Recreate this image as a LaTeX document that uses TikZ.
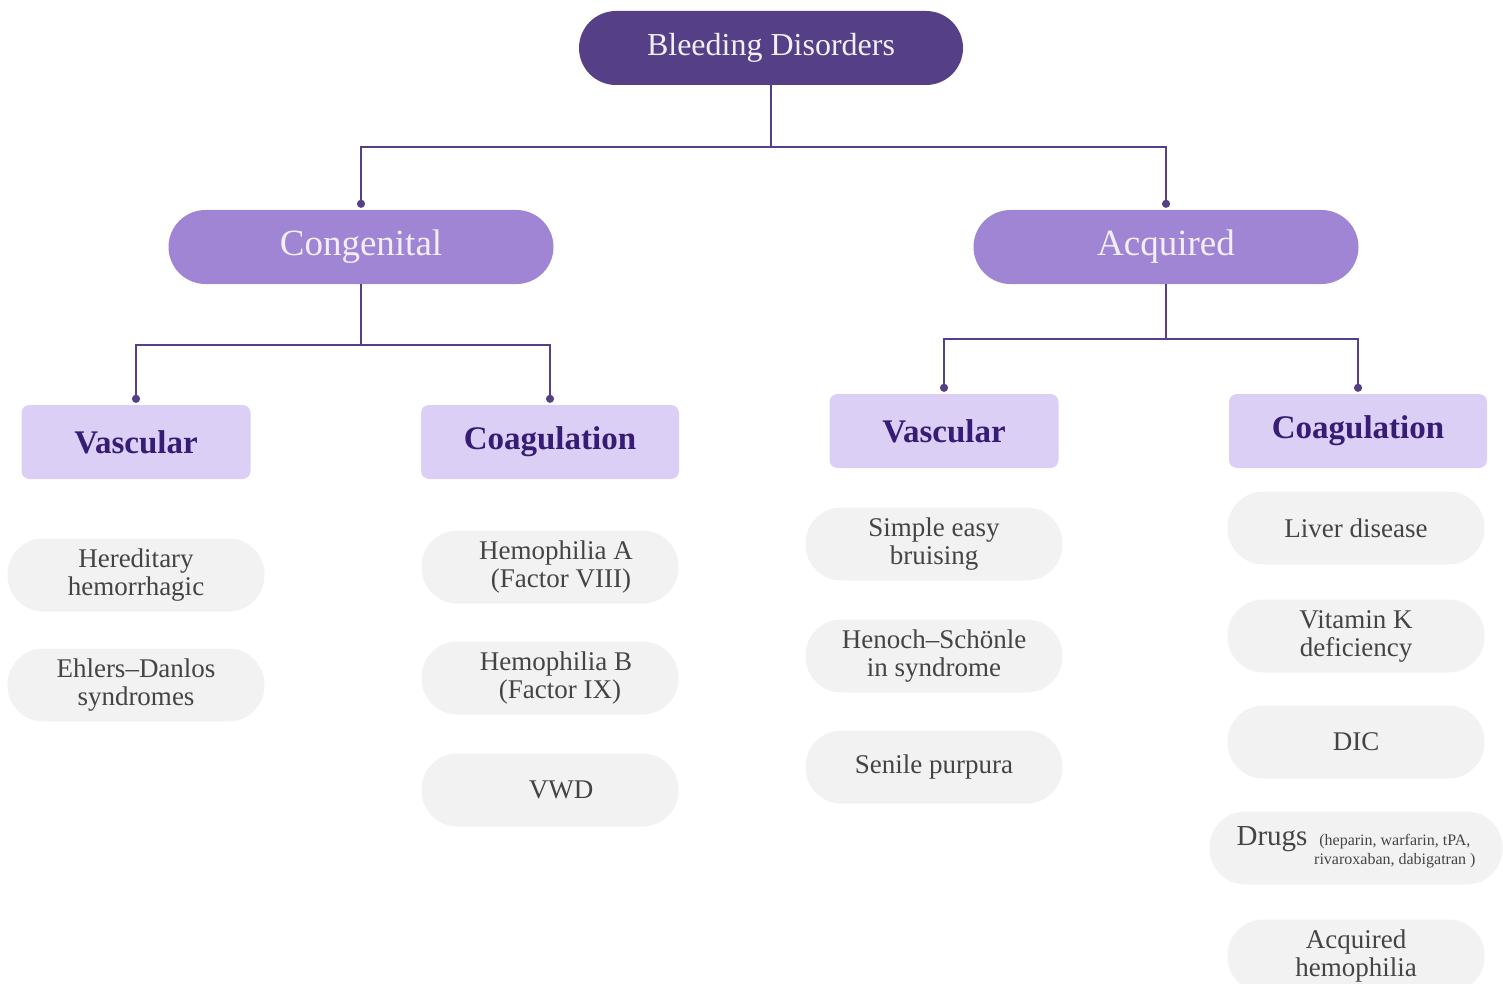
\documentclass[tikz,border=0pt]{standalone}
\usepackage{fontspec}
\setmainfont{Liberation Serif}
\usepackage{xcolor}
\definecolor{rootPurple}{HTML}{553F87}
\definecolor{branchPurple}{HTML}{A085D5}
\definecolor{typeLilac}{HTML}{DCCFF5}
\definecolor{typeText}{HTML}{361C75}
\definecolor{leafGray}{HTML}{F2F2F2}
\definecolor{leafText}{HTML}{444444}
\definecolor{headText}{HTML}{F2EEF7}
\usepackage{tikz}
\usetikzlibrary{arrows.meta, positioning, calc}

\begin{document}
\begin{tikzpicture}[
        x=1pt, y=-1pt,
        rootNode/.style={
            fill=rootPurple,
            rounded corners=37pt,
            minimum height=74pt,
            minimum width=384pt,
            font=\fontsize{32}{35}\selectfont,
            text=headText,
            align=center
        },
        branchNode/.style={
            fill=branchPurple,
            rounded corners=37pt,
            minimum height=74pt,
            minimum width=385pt,
            font=\fontsize{37}{40}\selectfont,
            text=headText,
            align=center
        },
        typeNode/.style={
            fill=typeLilac,
            rounded corners=8pt,
            minimum height=74pt,
            font=\fontsize{33}{36}\selectfont\bfseries,
            text=typeText,
            align=center
        },
        leafNode/.style={
            fill=leafGray,
            rounded corners=36pt,
            minimum height=73pt,
            minimum width=257pt,
            inner sep=0pt,
            font=\fontsize{27}{28}\selectfont,
            text=leafText,
            align=center
        },
        connLine/.style={
            -{Circle[length=8pt]},
            rootPurple,
            line width=2pt,
            shorten >=2pt
        }
    ]
    \useasboundingbox (0,0) rectangle (1503,984);

    % Root
    \node[rootNode] (root) at (771, 48) {Bleeding Disorders};

    % Branches
    \node[branchNode] (cong) at (361, 247) {Congenital};
    \node[branchNode] (acq) at (1166, 247) {Acquired};

    % Types
    \node[typeNode, minimum width=229pt] (cvasc) at (136, 442) {Vascular};
    \node[typeNode, minimum width=258pt] (ccoag) at (550, 442) {Coagulation};
    \node[typeNode, minimum width=229pt] (avasc) at (944, 431) {Vascular};
    \node[typeNode, minimum width=258pt] (acoag) at (1358, 431) {Coagulation};

    % Congenital vascular
    \node[leafNode] (hered) at (136, 575) {Hereditary\\hemorrhagic};
    \node[leafNode] (ehlers) at (136, 685) {Ehlers--Danlos\\syndromes};

    % Congenital coagulation
    \node[leafNode] (hemA) at (550, 567) {\hspace*{12pt}Hemophilia A\\\hspace*{22pt}(Factor VIII)};
    \node[leafNode] (hemB) at (550, 678) {\hspace*{12pt}Hemophilia B\\\hspace*{20pt}(Factor IX)};
    \node[leafNode] (vwd) at (550, 790) {\hspace*{22pt}VWD};

    % Acquired vascular
    \node[leafNode] (bruise) at (934, 544) {Simple easy\\bruising};
    \node[leafNode] (henoch) at (934, 656) {Henoch--Schönle\\in syndrome};
    \node[leafNode] (senile) at (934, 767) {Senile purpura};

    % Acquired coagulation
    \node[leafNode] (liver) at (1356, 528) {Liver disease};
    \node[leafNode] (vitk) at (1356, 636) {Vitamin K\\deficiency};
    \node[leafNode] (dic) at (1356, 742) {DIC};
    \node[leafNode, minimum width=293pt] (drugs) at (1356, 848) {{\fontsize{29}{30}\selectfont Drugs} {\fontsize{16}{19}\selectfont\begin{tabular}[t]{@{}c@{}}(heparin, warfarin, tPA,\\rivaroxaban, dabigatran )\end{tabular}}};
    \node[leafNode] (acqhem) at (1356, 956) {Acquired\\hemophilia};

    % Connections
    \draw[connLine] (root.south) |- ($(root.south)!0.5!(cong.north)$) -| (cong.north);
    \draw[connLine] (root.south) |- ($(root.south)!0.5!(acq.north)$) -| (acq.north);
    \draw[connLine] (cong.south) |- ($(cong.south)!0.5!(cvasc.north)$) -| (cvasc.north);
    \draw[connLine] (cong.south) |- ($(cong.south)!0.5!(ccoag.north)$) -| (ccoag.north);
    \draw[connLine] (acq.south) |- ($(acq.south)!0.5!(avasc.north)$) -| (avasc.north);
    \draw[connLine] (acq.south) |- ($(acq.south)!0.5!(acoag.north)$) -| (acoag.north);
\end{tikzpicture}
\end{document}
